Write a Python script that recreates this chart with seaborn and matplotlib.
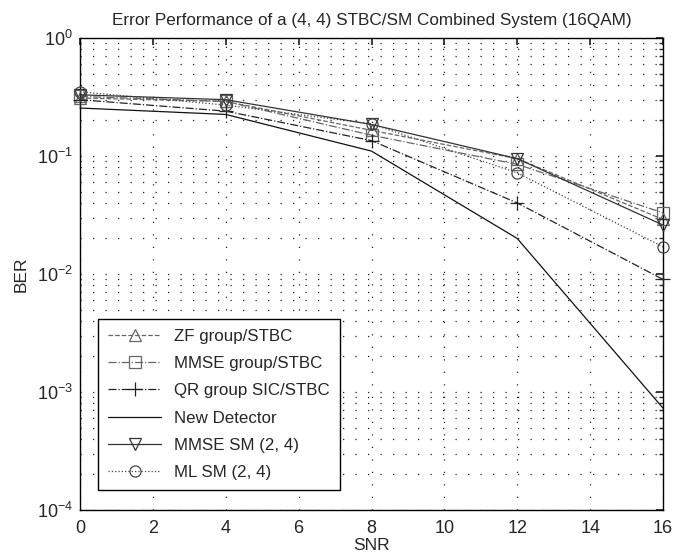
import matplotlib
matplotlib.use("Agg")
import matplotlib.pyplot as plt
import seaborn as sns
import numpy as np
import pandas as pd
from matplotlib.ticker import LogLocator, FixedLocator

snr = [0, 4, 8, 12, 16]
zf_group = [0.31, 0.29, 0.165, 0.095, 0.029]
mmse_group = [0.32, 0.29, 0.15, 0.085, 0.033]
qr_sic = [0.30, 0.24, 0.135, 0.040, 0.0090]
new_det = [0.255, 0.225, 0.11, 0.020, 0.00073]
mmse_sm = [0.33, 0.30, 0.185, 0.095, 0.026]
ml_sm = [0.35, 0.27, 0.187, 0.072, 0.017]

labels = ["ZF group/STBC", "MMSE group/STBC", "QR group SIC/STBC",
          "New Detector", "MMSE SM (2, 4)", "ML SM (2, 4)"]
series = [zf_group, mmse_group, qr_sic, new_det, mmse_sm, ml_sm]
styles = [("--", "^"), ("-.", "s"), ("-.", "+"), ("-", None), ("-", "v"), (":", "o")]
colors = ["#666666", "#666666", "#222222", "#111111", "#333333", "#444444"]

sns.set_theme(style="white")
plt.rcParams['font.family'] = ['Liberation Sans', 'DejaVu Sans']
plt.rcParams['mathtext.fontset'] = 'custom'
plt.rcParams['mathtext.rm'] = 'Liberation Sans'
plt.rcParams['mathtext.it'] = 'Liberation Sans'

fig = plt.figure(figsize=(6.74, 5.6), dpi=100)
ax = fig.add_axes([80/674, 1-510/560, (663-80)/674, (510-38)/560])

for lab, vals, (ls, mk), c in zip(labels, series, styles, colors):
    df = pd.DataFrame({"SNR": snr, "BER": vals})
    sns.lineplot(data=df, x="SNR", y="BER", ax=ax, color=c, linestyle=ls,
                 marker=mk if mk else "", markersize=8 if mk != "+" else 10,
                 markerfacecolor="none", markeredgecolor=c, markeredgewidth=0.9,
                 linewidth=0.9, label=lab, clip_on=False, zorder=3)

ax.set_yscale("log")
ax.set_ylim(1e-4, 1)
ax.set_xlim(0, 16)
ax.xaxis.set_major_locator(FixedLocator(np.arange(0, 17, 2)))
ax.yaxis.set_major_locator(LogLocator(base=10, numticks=10))
ax.yaxis.set_minor_locator(LogLocator(base=10, subs=np.arange(2, 10), numticks=20))
ax.grid(True, which="major", linestyle=(0, (1, 9)), color="#222222", linewidth=0.9)
ax.grid(True, which="minor", axis="y", linestyle=(0, (1, 9)), color="#222222", linewidth=0.9)
ax.tick_params(which="both", direction="in", top=True, right=True, labelsize=13)
ax.tick_params(axis="x", pad=7)
ax.tick_params(axis="y", pad=5)
ax.tick_params(which="major", length=5)
ax.tick_params(which="minor", length=3)
for s in ax.spines.values():
    s.set_color("black")
    s.set_linewidth(1.0)

ax.set_title("Error Performance of a (4, 4) STBC/SM Combined System (16QAM)", fontsize=12.3, pad=9)
ax.set_xlabel("SNR", fontsize=12.5, labelpad=1)
ax.set_ylabel("BER", fontsize=12.5, labelpad=6)

leg = ax.legend(loc="lower left", bbox_to_anchor=(0.031, 0.042), fontsize=12.2,
                frameon=True, fancybox=False, edgecolor="black", framealpha=1,
                handlelength=3.1, borderpad=0.6, labelspacing=0.72, borderaxespad=0)
leg.get_frame().set_linewidth(1.0)

fig.savefig("out.png", dpi=100)
